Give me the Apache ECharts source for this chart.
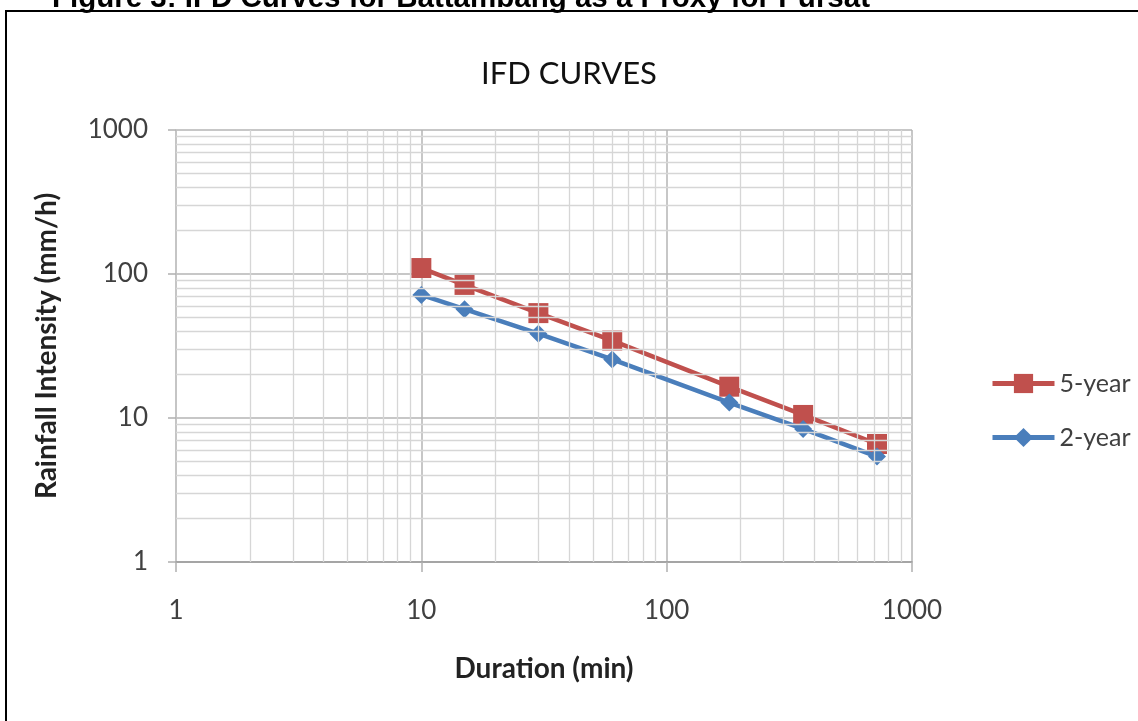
<!DOCTYPE html>
<html>
<head>
<meta charset="utf-8">
<title>IFD Curves</title>
<script src="https://cdn.jsdelivr.net/npm/echarts@6/dist/echarts.min.js"></script>
<style>
  html, body { margin: 0; padding: 0; background: #fff; }
  #demo { width: 1138px; height: 721px; }
</style>
</head>
<body>
<div id="demo"></div>
<script>
// durations (min) and intensities (mm/h)
var durations = [10, 15, 30, 60, 180, 360, 720];
var fiveYear = [110, 84, 53.5, 34.5, 16.5, 10.5, 6.6];
var twoYear = [71.5, 57, 38.5, 25.5, 12.8, 8.4, 5.4];
var seriesNames = ['5-year', '2-year'];

var myChart = echarts.init(document.getElementById('demo'));

function pairs(xs, ys) {
    var out = [];
    for (var i = 0; i < xs.length; i++) out.push([xs[i], ys[i]]);
    return out;
}

// minor grid lines 2..9 of each decade
var minorLines = [];
[1, 10, 100].forEach(function (dec) {
    for (var k = 2; k <= 9; k++) {
        minorLines.push({ xAxis: dec * k });
        minorLines.push({ yAxis: dec * k });
    }
});

var font = 'Lato, "Noto Sans", sans-serif';
var plainNum = function (v) { return String(Math.round(v)); };

option = {
    animation: false,
    title: {
        text: 'IFD CURVES',
        left: 'center',
        top: 53,
        textStyle: { fontFamily: font, fontSize: 31, fontWeight: 'normal', color: '#111' }
    },
    legend: {
        orient: 'vertical',
        left: 985,
        top: 366,
        itemWidth: 62,
        itemHeight: 24,
        itemGap: 29,
        data: seriesNames,
        lineStyle: { width: 5 },
        textStyle: { fontFamily: font, fontSize: 25, color: '#404040' }
    },
    grid: { left: 176, right: 226, top: 130, bottom: 159 },
    xAxis: {
        type: 'log',
        logBase: 10,
        min: 1,
        max: 1000,
        name: 'Duration (min)',
        nameLocation: 'middle',
        nameGap: 93,
        nameTextStyle: { fontFamily: font, fontSize: 28, fontWeight: 'bold', color: '#222' },
        axisLine: { lineStyle: { color: '#9a9a9a', width: 1.5 } },
        axisTick: { show: true, length: 10, lineStyle: { color: '#b0b0b0', width: 1.5 } },
        axisLabel: { margin: 36, fontFamily: font, fontSize: 26, color: '#404040', formatter: plainNum },
        splitLine: { show: true, lineStyle: { color: '#b4b4b4', width: 1.5 } }
    },
    yAxis: {
        type: 'log',
        logBase: 10,
        min: 1,
        max: 1000,
        name: 'Rainfall Intensity (mm/h)',
        nameLocation: 'middle',
        nameGap: 115,
        nameTextStyle: { fontFamily: font, fontSize: 28, fontWeight: 'bold', color: '#222' },
        axisLine: { show: true, lineStyle: { color: '#c4c4c4', width: 1.5 } },
        axisTick: { show: true, length: 8, lineStyle: { color: '#b0b0b0', width: 1.5 } },
        axisLabel: { margin: 28, fontFamily: font, fontSize: 26, color: '#404040', formatter: plainNum },
        splitLine: { show: true, lineStyle: { color: '#b4b4b4', width: 1.5 } }
    },
    series: [
        {
            name: 'grid-minor',
            type: 'line',
            data: [],
            z: 1,
            silent: true,
            markLine: {
                silent: true,
                symbol: 'none',
                label: { show: false },
                lineStyle: { color: '#d6d6d6', width: 1.3, type: 'solid' },
                emphasis: { disabled: true },
                data: minorLines
            }
        },
        {
            name: '5-year',
            type: 'line',
            z: 3,
            data: pairs(durations, fiveYear),
            color: '#C0504D',
            symbol: 'rect',
            symbolSize: 20,
            lineStyle: { width: 4.5, color: '#C0504D' },
            itemStyle: { color: '#C0504D' }
        },
        {
            name: '2-year',
            type: 'line',
            z: 4,
            data: pairs(durations, twoYear),
            color: '#4A7EBB',
            symbol: 'diamond',
            symbolSize: 18,
            lineStyle: { width: 4.5, color: '#4A7EBB' },
            itemStyle: { color: '#4A7EBB' }
        }
    ],
    graphic: [
        {
            type: 'rect',
            shape: { x: 6, y: 11, width: 1300, height: 900 },
            style: { fill: 'none', stroke: '#000', lineWidth: 2 },
            silent: true
        },
        {
            type: 'text',
            left: 52,
            top: -16,
            style: {
                text: 'Figure 3: IFD Curves for Battambang as a Proxy for Pursat',
                fontFamily: '"Liberation Sans", Arial, sans-serif',
                fontSize: 29.5,
                fontWeight: 'bold',
                fill: '#000'
            },
            silent: true
        }
    ]
};

myChart.setOption(option);
</script>
</body>
</html>
